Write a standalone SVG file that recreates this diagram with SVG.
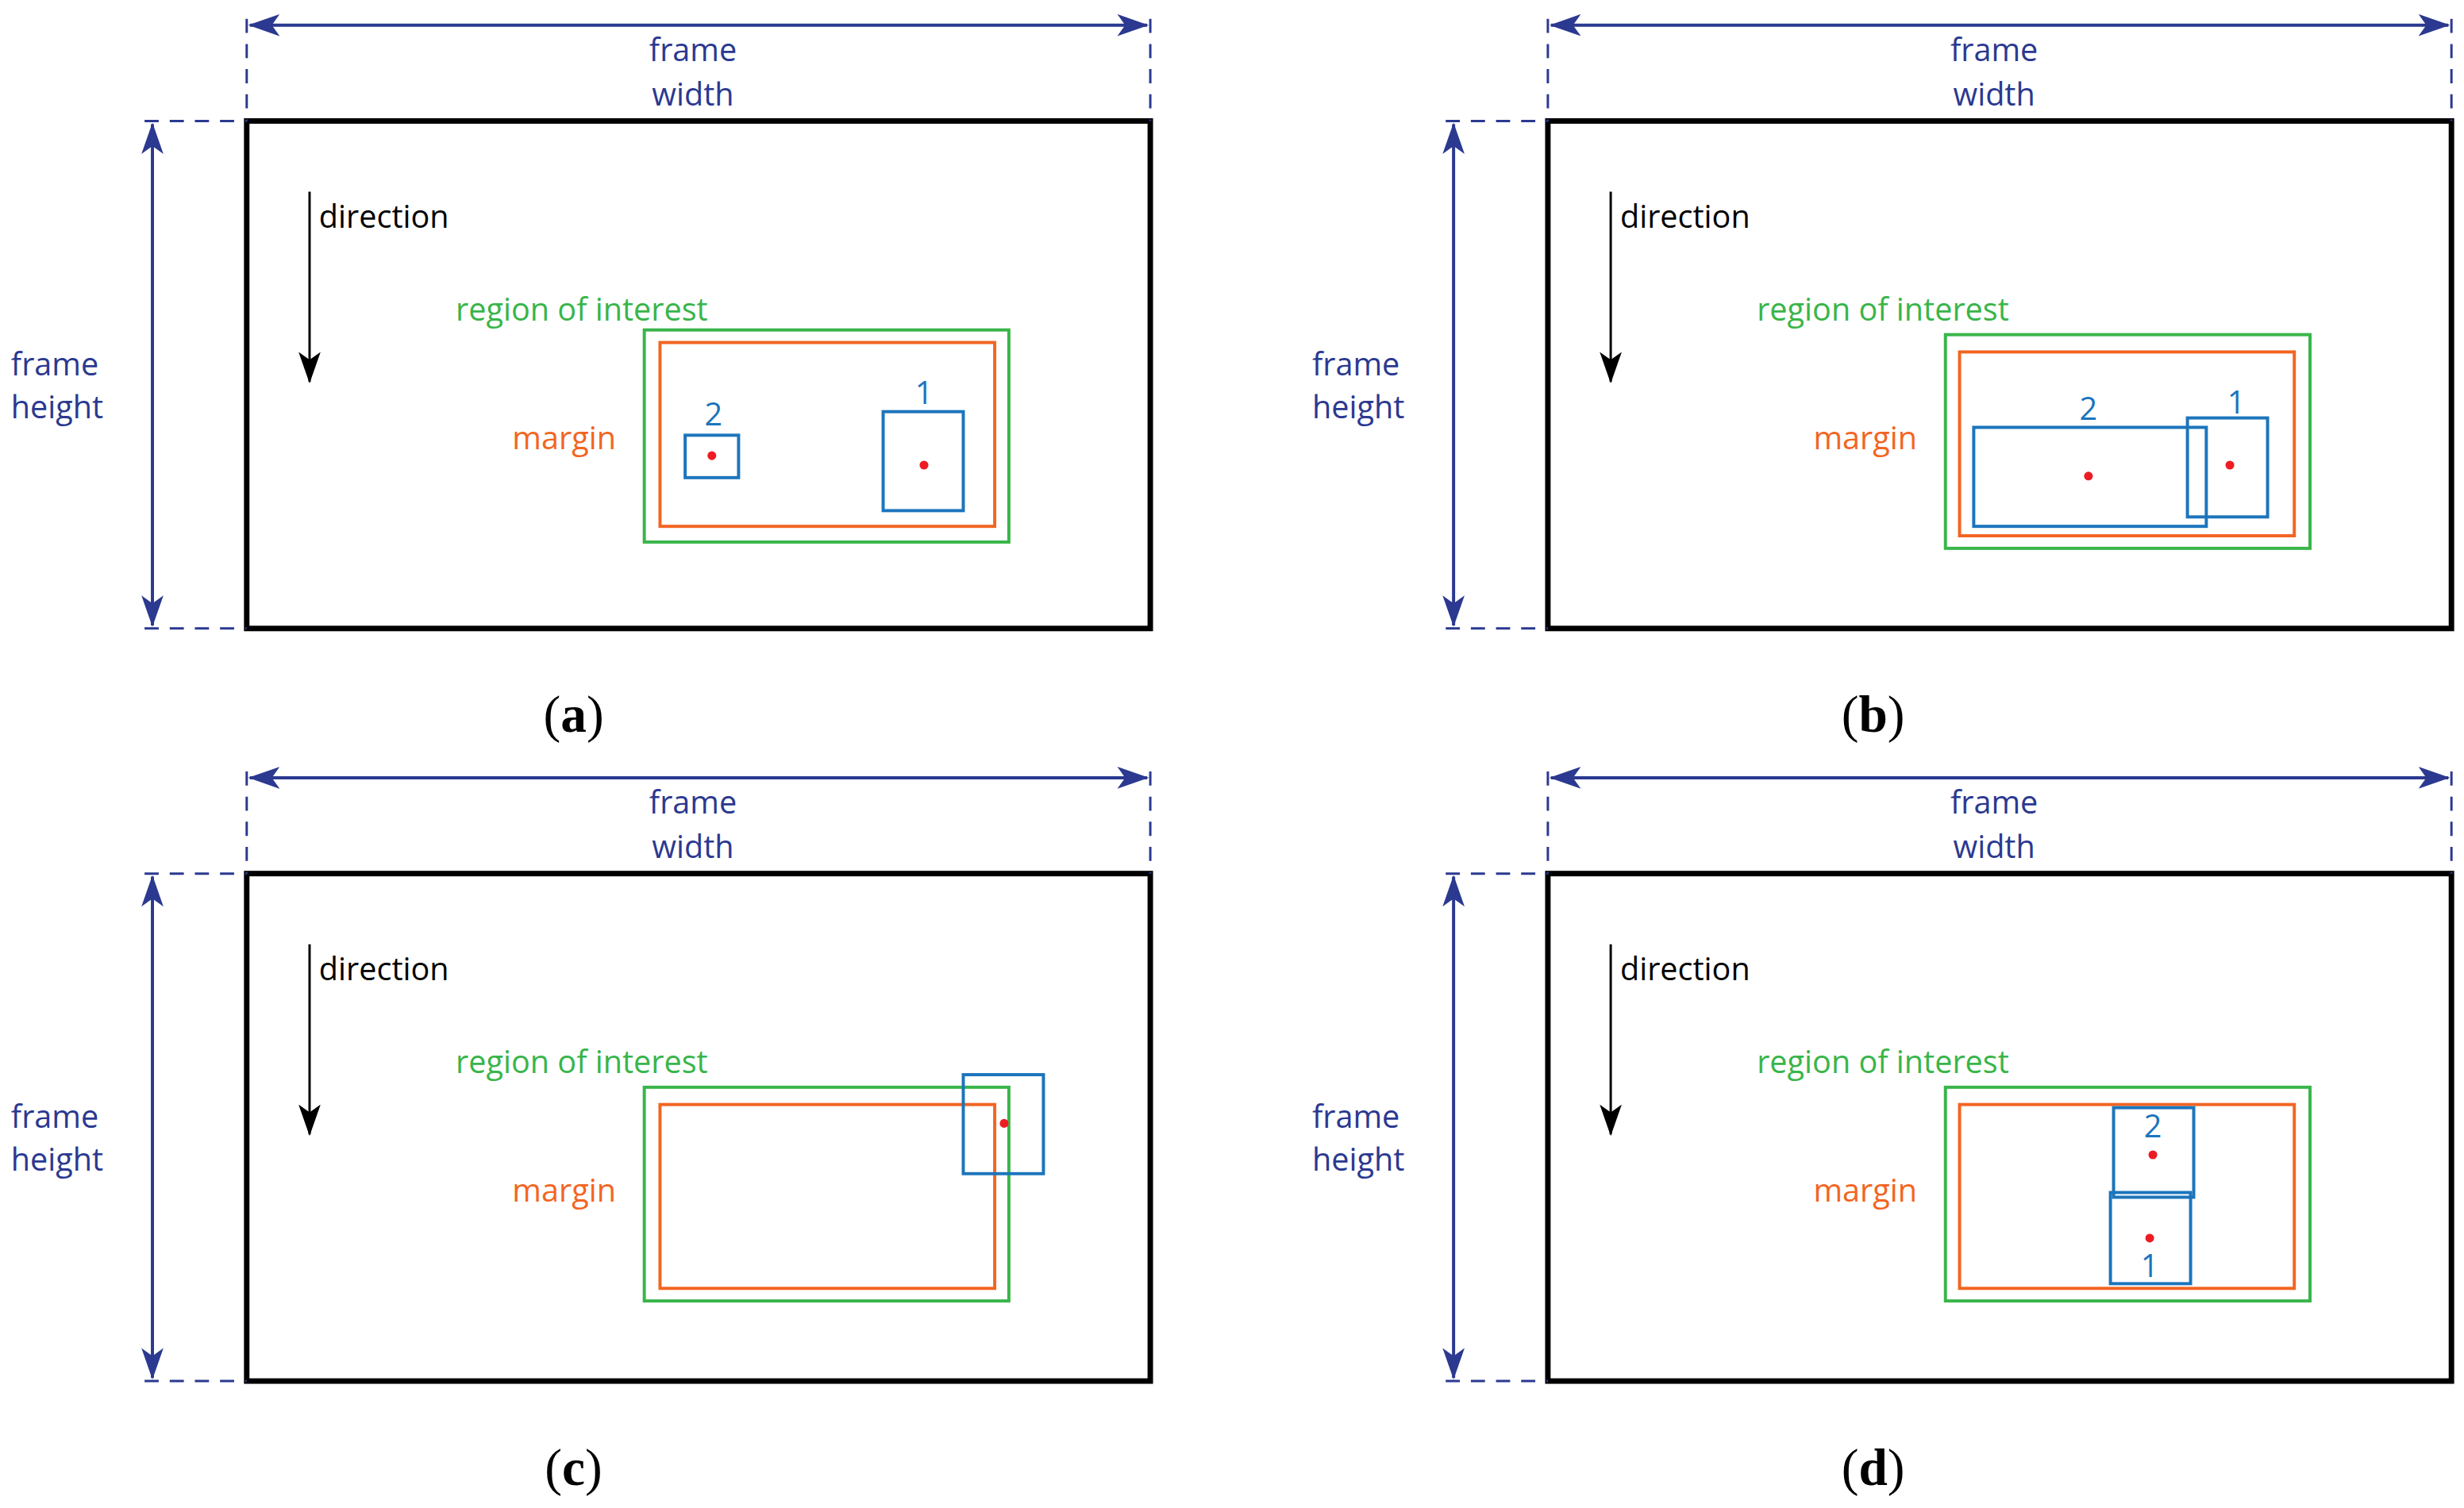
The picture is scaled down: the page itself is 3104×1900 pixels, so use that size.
<svg xmlns="http://www.w3.org/2000/svg" width="3104" height="1900" viewBox="0 0 3104 1900">
<style>
.fr{fill:none;stroke:#000;stroke-width:3.5}
.dim{fill:none;stroke:#2b3990;stroke-width:2}
.dash{fill:none;stroke:#2b3990;stroke-width:1.5;stroke-dasharray:9,7}
.roi{fill:none;stroke:#39b54a;stroke-width:2}
.mar{fill:none;stroke:#f26522;stroke-width:2}
.bx{fill:none;stroke:#1c75bc;stroke-width:2}
.t{font-family:"Open Sans","Liberation Sans",sans-serif;font-size:20px}
.tb{fill:#2b3990}.tg{fill:#39b54a}.to{fill:#f26522}.tl{fill:#1c75bc}
.cap{font-family:"Liberation Serif",serif;font-size:33px;text-anchor:middle}
.cap tspan.b{font-weight:bold}
.dot{fill:#ed1c24}
</style>
<defs>
<marker id="ab" viewBox="0 0 20 14" refX="19" refY="7" markerWidth="20" markerHeight="14" markerUnits="userSpaceOnUse" orient="auto-start-reverse"><path d="M0,0 L20,7 L0,14 L5,7 Z" fill="#2b3990"/></marker>
<marker id="ak" viewBox="0 0 20 14" refX="19" refY="7" markerWidth="20" markerHeight="14" markerUnits="userSpaceOnUse" orient="auto"><path d="M0,0 L20,7 L0,14 L5,7 Z" fill="#000"/></marker>
<g id="base">
<rect class="fr" x="157" y="77" width="575" height="323"/>
<line class="dim" x1="159" y1="16" x2="730" y2="16" marker-start="url(#ab)" marker-end="url(#ab)"/>
<line class="dash" x1="157" y1="12" x2="157" y2="77"/>
<line class="dash" x1="732" y1="12" x2="732" y2="77"/>
<line class="dim" x1="97" y1="79" x2="97" y2="398" marker-start="url(#ab)" marker-end="url(#ab)"/>
<line class="dash" x1="92" y1="77" x2="157" y2="77"/>
<line class="dash" x1="92" y1="400" x2="157" y2="400"/>
<line stroke="#000" stroke-width="1.5" x1="197" y1="122" x2="197" y2="243" marker-end="url(#ak)"/>
<text class="t tb" x="441" y="39" text-anchor="middle">frame</text>
<text class="t tb" x="441" y="67" text-anchor="middle">width</text>
<text class="t tb" x="7" y="239">frame</text>
<text class="t tb" x="7" y="266">height</text>
<text class="t" x="203" y="145">direction</text>
<text class="t tg" x="290" y="204">region of interest</text>
<text class="t to" x="326" y="286">margin</text>
</g>
</defs>
<g transform="scale(1.9796)">
<g id="panel-a">
<use href="#base"/>
<rect class="roi" x="410" y="210" width="232" height="135"/>
<rect class="mar" x="420" y="218" width="213" height="117"/>
<rect class="bx" x="436" y="277" width="34" height="27"/>
<text class="t tl" x="454" y="271" text-anchor="middle">2</text>
<circle class="dot" cx="453" cy="290" r="2.8"/>
<rect class="bx" x="562" y="262" width="51" height="63"/>
<text class="t tl" x="588" y="257" text-anchor="middle">1</text>
<circle class="dot" cx="588" cy="296" r="2.8"/>
<text class="cap" x="365" y="466">(<tspan class="b">a</tspan>)</text>
</g>
<g id="panel-b" transform="translate(828,0)">
<use href="#base"/>
<rect class="roi" x="410" y="213" width="232" height="136"/>
<rect class="mar" x="419" y="224" width="213" height="117"/>
<rect class="bx" x="428" y="272" width="148" height="63"/>
<text class="t tl" x="501" y="267" text-anchor="middle">2</text>
<circle class="dot" cx="501" cy="303" r="2.8"/>
<rect class="bx" x="564" y="266" width="51" height="63"/>
<text class="t tl" x="595" y="263" text-anchor="middle">1</text>
<circle class="dot" cx="591" cy="296" r="2.8"/>
<text class="cap" x="364" y="466">(<tspan class="b">b</tspan>)</text>
</g>
<g id="panel-c" transform="translate(0,479)">
<use href="#base"/>
<rect class="roi" x="410" y="213" width="232" height="136"/>
<rect class="mar" x="420" y="224" width="213" height="117"/>
<rect class="bx" x="613" y="205" width="51" height="63"/>
<circle class="dot" cx="639" cy="236" r="2.8"/>
<text class="cap" x="365" y="466">(<tspan class="b">c</tspan>)</text>
</g>
<g id="panel-d" transform="translate(828,479)">
<use href="#base"/>
<rect class="roi" x="410" y="213" width="232" height="136"/>
<rect class="mar" x="419" y="224" width="213" height="117"/>
<rect class="bx" x="517" y="226" width="51" height="57"/>
<text class="t tl" x="542" y="245" text-anchor="middle">2</text>
<circle class="dot" cx="542" cy="256" r="2.8"/>
<rect class="bx" x="515" y="280" width="51" height="58"/>
<text class="t tl" x="540" y="334" text-anchor="middle">1</text>
<circle class="dot" cx="540" cy="309" r="2.8"/>
<text class="cap" x="364" y="466">(<tspan class="b">d</tspan>)</text>
</g>
</g>
</svg>
